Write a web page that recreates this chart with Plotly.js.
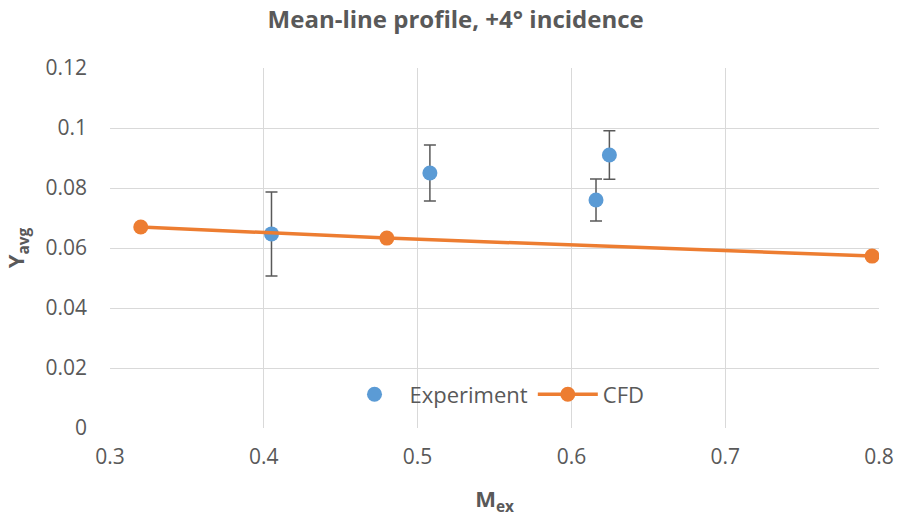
<!DOCTYPE html>
<html><head><meta charset="utf-8">
<script src="https://cdn.plot.ly/plotly-3.0.1.min.js"></script>
<style>body{margin:0;background:#fff}#chart{width:897px;height:520px}</style>
</head><body><div id="chart"></div>
<script>
const expX = [0.405, 0.508, 0.616, 0.6247];
const expY = [0.0647, 0.085, 0.076, 0.091];
const expErr = [0.014, 0.0093, 0.007, 0.0081];
const cfdX = [0.320, 0.480, 0.7955];
const cfdY = [0.067, 0.0633, 0.0573];

const font = "'Open Sans', 'Liberation Sans', sans-serif";
const traces = [
  {x: expX, y: expY, type: 'scatter', mode: 'markers', name: 'Experiment',
   marker: {color: '#5B9BD5', size: 15},
   error_y: {type: 'data', array: expErr, visible: true, color: '#595959', thickness: 1.5, width: 6}},
  {x: cfdX, y: cfdY, type: 'scatter', mode: 'lines+markers', name: 'CFD',
   line: {color: '#ED7D31', width: 3.5}, marker: {color: '#ED7D31', size: 15}}
];
const layout = {
  width: 897, height: 520,
  margin: {l: 110, r: 18, t: 68, b: 92},
  paper_bgcolor: '#fff', plot_bgcolor: '#fff',
  font: {family: font, color: '#595959', size: 20},
  title: {text: '<b>Mean-line profile, +4° incidence</b>', x: 0.508, xanchor: 'center', y: 0.978, yanchor: 'top',
          font: {family: font, size: 24, color: '#595959'}},
  xaxis: {range: [0.3, 0.8], dtick: 0.1, tickformat: '.1f', showgrid: true, gridcolor: '#d9d9d9', gridwidth: 1,
          zeroline: false, showline: false, ticks: '', ticklabelstandoff: 14, tickfont: {size: 21, color: '#595959'},
          title: {text: '<b>M<sub>ex</sub></b>', font: {size: 22, color: '#595959'}, standoff: 22}},
  yaxis: {range: [0, 0.12], showgrid: true, gridcolor: '#d9d9d9', gridwidth: 1,
          zeroline: false, showline: false, ticks: '', ticklabelstandoff: 22, tickfont: {size: 21, color: '#595959'},
          tickvals: [0, 0.02, 0.04, 0.06, 0.08, 0.1, 0.12], ticktext: ['0','0.02','0.04','0.06','0.08','0.1','0.12'],
          title: {text: '<b>Y<sub>avg</sub></b>', font: {size: 22, color: '#595959'}, standoff: 14}},
  showlegend: true,
  legend: {orientation: 'h', x: 0.5, xanchor: 'center', y: 0.035, yanchor: 'bottom', bgcolor: 'rgba(255,255,255,0)',
           font: {size: 22, color: '#595959'}, itemwidth: 60, tracegroupgap: 20}
};
Plotly.newPlot('chart', traces, layout, {displayModeBar: false});
</script></body></html>
